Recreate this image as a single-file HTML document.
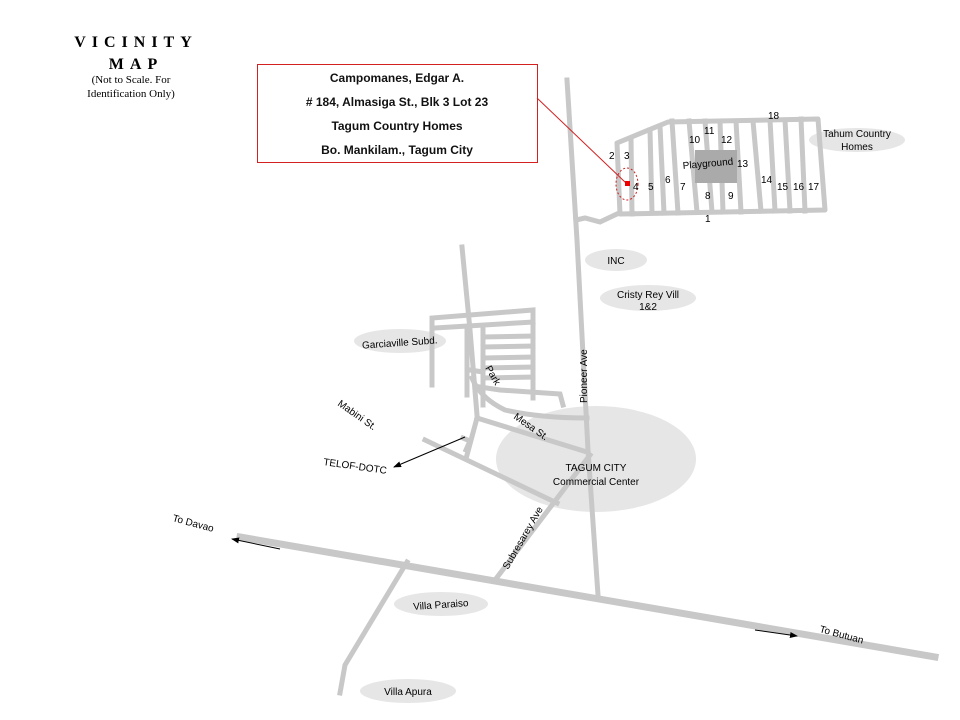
<!DOCTYPE html>
<html><head><meta charset="utf-8"><style>
html,body{margin:0;padding:0;background:#fff;}
svg{display:block;font-family:"Liberation Sans",sans-serif;}
</style></head><body>
<svg width="960" height="720" viewBox="0 0 960 720" xmlns="http://www.w3.org/2000/svg">
<defs>
<marker id="ah" markerWidth="8" markerHeight="6" refX="7" refY="3" orient="auto" markerUnits="userSpaceOnUse"><path d="M0,0 L8,3 L0,6 z" fill="#000"/></marker>
</defs>
<g fill="#e6e6e6">
<ellipse cx="857" cy="140" rx="48" ry="12"/>
<ellipse cx="616" cy="260" rx="31" ry="11"/>
<ellipse cx="648" cy="298" rx="48" ry="13"/>
<ellipse cx="400" cy="341" rx="46" ry="12"/>
<ellipse cx="596" cy="459" rx="100" ry="53"/>
<ellipse cx="441" cy="604" rx="47" ry="12"/>
<ellipse cx="408" cy="691" rx="48" ry="12"/>
</g>
<g stroke="#c8c8c8" fill="none" stroke-linecap="square" stroke-width="5">
<path d="M240,537 L935,657" stroke-width="7"/>
<path d="M567,80 L577,240 L588,450 L598,595"/>
<path d="M617,143 L668,122 L818,119 L825,210 L620,214 Z" stroke-linejoin="round"/>
<path d="M617,214 L600,222 L585,218 L576,220"/>
<line x1="631" y1="138" x2="632" y2="214"/>
<line x1="650" y1="130" x2="652" y2="213"/>
<line x1="660" y1="126" x2="664" y2="213"/>
<line x1="672" y1="121" x2="678" y2="213"/>
<line x1="689" y1="121" x2="697" y2="212"/>
<line x1="705" y1="121" x2="712" y2="212"/>
<line x1="720" y1="121" x2="723" y2="212"/>
<line x1="736" y1="121" x2="741" y2="212"/>
<line x1="753" y1="121" x2="761" y2="211"/>
<line x1="770" y1="120" x2="775" y2="211"/>
<line x1="785" y1="120" x2="790" y2="211"/>
<line x1="801" y1="119" x2="805" y2="211"/>
<path d="M462,247 L470,330 L477,415"/>
<path d="M432,385 L432,318 L533,310 L533,398"/>
<line x1="435" y1="328" x2="533" y2="322"/>
<line x1="467" y1="330" x2="467" y2="395"/>
<line x1="483" y1="330" x2="483" y2="405"/>
<line x1="483" y1="337" x2="533" y2="336"/>
<line x1="483" y1="347" x2="533" y2="346"/>
<line x1="483" y1="358" x2="533" y2="357"/>
<line x1="483" y1="368" x2="533" y2="367"/>
<line x1="483" y1="378" x2="533" y2="377"/>
<line x1="470" y1="370" x2="483" y2="372"/>
<path d="M480,387 L500,390 L560,394 L563,405"/>
<path d="M472,378 Q480,398 505,410 Q540,418 587,418"/>
<path d="M477,418 L587,452"/>
<path d="M477,418 L467,455"/>
<path d="M425,440 L557,503"/>
<path d="M463,438 L470,441 L466,450"/>
<path d="M590,455 L495,580"/>
<path d="M407,562 L345,665 L340,693"/>
</g>
<rect x="695" y="150" width="42" height="33" fill="#aaa"/>
<rect x="257.5" y="64.5" width="280" height="98" fill="#fff" stroke="#d32020"/>
<g font-weight="bold" font-size="12" text-anchor="middle" fill="#111">
<text x="397" y="82">Campomanes, Edgar A.</text>
<text x="397" y="106">#  184, Almasiga St., Blk 3 Lot 23</text>
<text x="397" y="130">Tagum Country Homes</text>
<text x="397" y="154">Bo. Mankilam., Tagum City</text>
</g>
<line x1="537" y1="98" x2="626" y2="183" stroke="#d32020"/>
<ellipse cx="627" cy="184" rx="11" ry="16" fill="none" stroke="#d32020" stroke-dasharray="2,2"/>
<rect x="625" y="181" width="5" height="5" fill="#e00"/>
<g font-family="Liberation Serif,serif" text-anchor="middle" fill="#000">
<text x="136" y="47" font-weight="bold" font-size="16" letter-spacing="6">VICINITY</text>
<text x="136" y="69" font-weight="bold" font-size="16" letter-spacing="6">MAP</text>
<text x="131" y="83" font-size="11">(Not to Scale. For</text>
<text x="131" y="97" font-size="11">Identification Only)</text>
</g>
<g font-size="10" fill="#000">
<text x="768" y="119">18</text>
<text x="704" y="134">11</text>
<text x="689" y="143">10</text>
<text x="721" y="143">12</text>
<text x="609" y="159">2</text>
<text x="624" y="159">3</text>
<text x="683" y="169" transform="rotate(-5 683 169)">Playground</text>
<text x="737" y="167">13</text>
<text x="665" y="183">6</text>
<text x="633" y="190">4</text>
<text x="648" y="190">5</text>
<text x="680" y="190">7</text>
<text x="761" y="183">14</text>
<text x="777" y="190">15</text>
<text x="793" y="190">16</text>
<text x="808" y="190">17</text>
<text x="705" y="199">8</text>
<text x="728" y="199">9</text>
<text x="705" y="222">1</text>
<text x="857" y="137" text-anchor="middle">Tahum Country</text>
<text x="857" y="150" text-anchor="middle">Homes</text>
<text x="616" y="264" text-anchor="middle">INC</text>
<text x="648" y="298" text-anchor="middle">Cristy Rey Vill</text>
<text x="648" y="310" text-anchor="middle">1&amp;2</text>
<text x="400" y="346" text-anchor="middle" transform="rotate(-4 400 346)">Garciaville Subd.</text>
<text x="0" y="0" transform="translate(587,403) rotate(-90)">Pioneer Ave</text>
<text x="0" y="0" transform="translate(485,368) rotate(60)">Park</text>
<text x="0" y="0" transform="translate(513,418) rotate(35)">Mesa St.</text>
<text x="0" y="0" transform="translate(337,405) rotate(35)">Mabini St.</text>
<text x="0" y="0" transform="translate(323,465) rotate(8)">TELOF-DOTC</text>
<text x="596" y="471" text-anchor="middle">TAGUM CITY</text>
<text x="596" y="485" text-anchor="middle">Commercial Center</text>
<text x="0" y="0" transform="translate(508,570) rotate(-60)">Subresarey Ave</text>
<text x="0" y="0" transform="translate(172,521) rotate(15)">To Davao</text>
<text x="0" y="0" transform="translate(819,632) rotate(15)">To Butuan</text>
<text x="441" y="608" text-anchor="middle" transform="rotate(-4 441 608)">Villa Paraiso</text>
<text x="408" y="695" text-anchor="middle">Villa Apura</text>
</g>
<g stroke="#000" stroke-width="1">
<line x1="465" y1="437" x2="394" y2="467" marker-end="url(#ah)"/>
<line x1="280" y1="549" x2="232" y2="539" marker-end="url(#ah)"/>
<line x1="755" y1="630" x2="797" y2="636" marker-end="url(#ah)"/>
</g>
</svg>
</body></html>
